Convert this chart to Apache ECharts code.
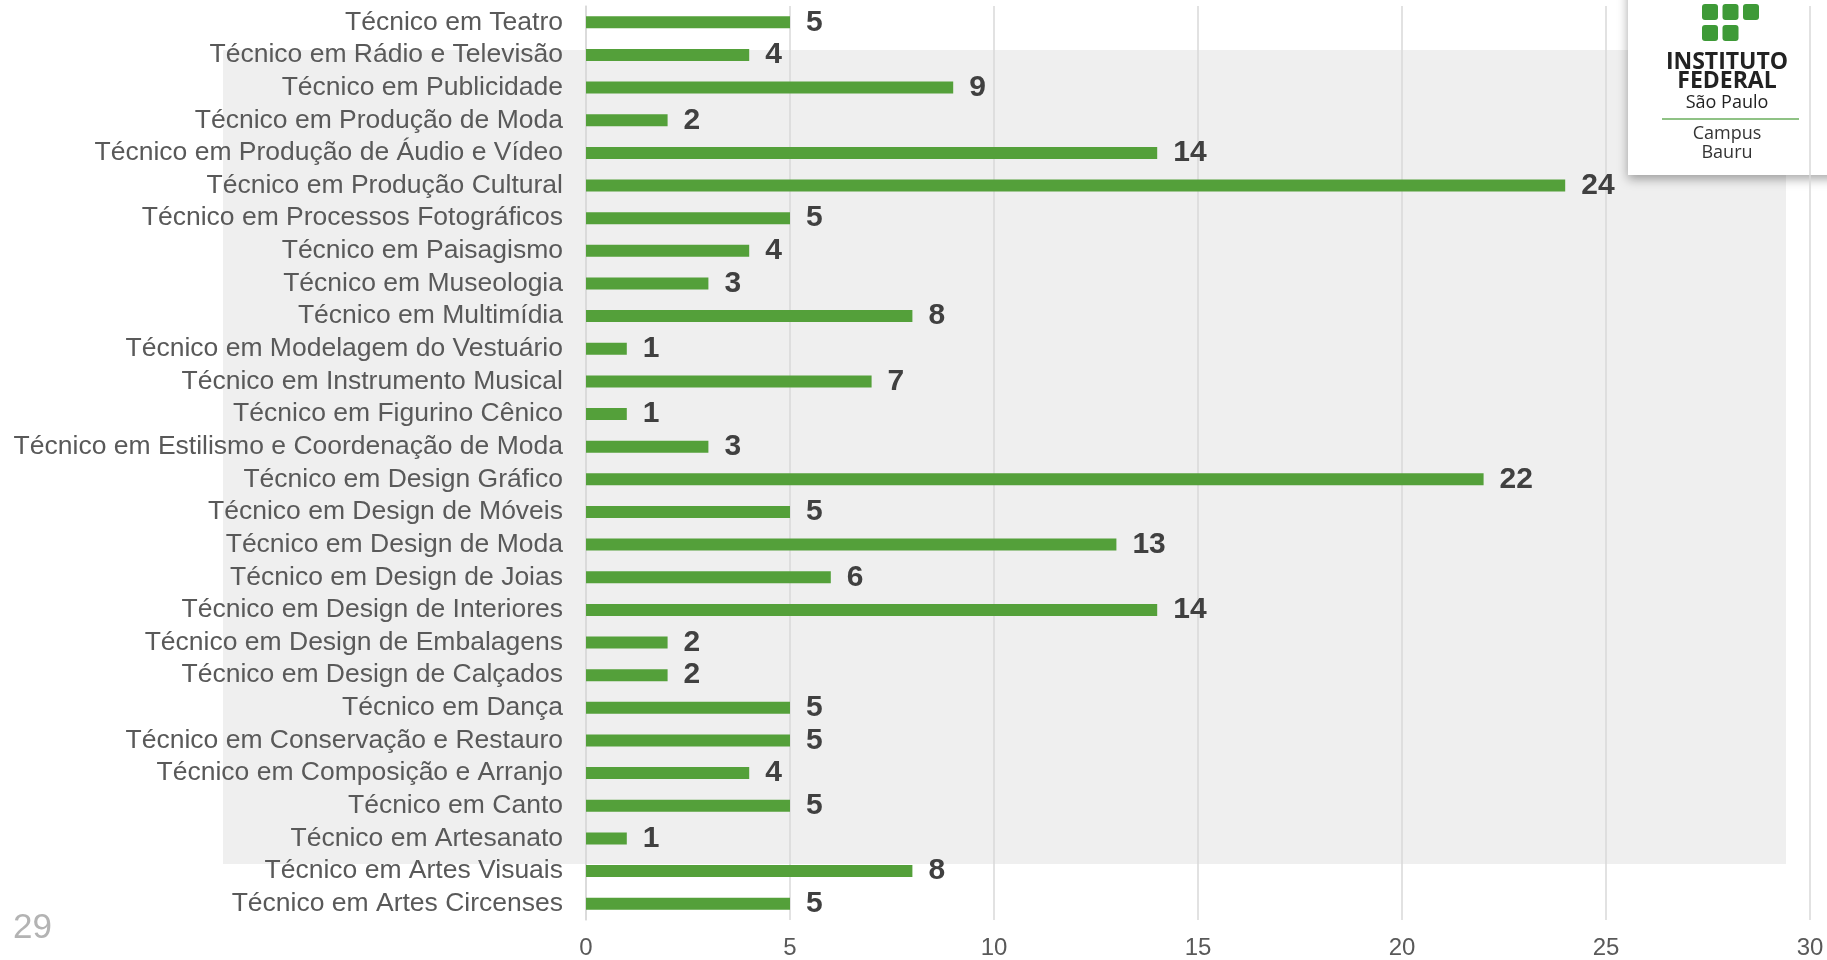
<!DOCTYPE html>
<html>
<head>
<meta charset="utf-8">
<title>Cursos técnicos</title>
<script src="https://cdn.jsdelivr.net/npm/echarts@6/dist/echarts.min.js"></script>
<style>
  html, body { margin: 0; padding: 0; background: #fff; }
  #MyChart { width: 1827px; height: 960px; }
</style>
</head>
<body>
<div id="MyChart"></div>
<script>
// categorias de cima para baixo
const categories = [
  "Técnico em Teatro",
  "Técnico em Rádio e Televisão",
  "Técnico em Publicidade",
  "Técnico em Produção de Moda",
  "Técnico em Produção de Áudio e Vídeo",
  "Técnico em Produção Cultural",
  "Técnico em Processos Fotográficos",
  "Técnico em Paisagismo",
  "Técnico em Museologia",
  "Técnico em Multimídia",
  "Técnico em Modelagem do Vestuário",
  "Técnico em Instrumento Musical",
  "Técnico em Figurino Cênico",
  "Técnico em Estilismo e Coordenação de Moda",
  "Técnico em Design Gráfico",
  "Técnico em Design de Móveis",
  "Técnico em Design de Moda",
  "Técnico em Design de Joias",
  "Técnico em Design de Interiores",
  "Técnico em Design de Embalagens",
  "Técnico em Design de Calçados",
  "Técnico em Dança",
  "Técnico em Conservação e Restauro",
  "Técnico em Composição e Arranjo",
  "Técnico em Canto",
  "Técnico em Artesanato",
  "Técnico em Artes Visuais",
  "Técnico em Artes Circenses"
];
const values = [5, 4, 9, 2, 14, 24, 5, 4, 3, 8, 1, 7, 1, 3, 22, 5, 13, 6, 14, 2, 2, 5, 5, 4, 5, 1, 8, 5];
const xMin = 0;
const xMax = 30;
const xStep = 5;
const pageNumber = "29";

const myChart = echarts.init(document.getElementById("MyChart"));

// quadradinhos do logo (decoracao)
const green = "#3e9a37";
const squares = [];
[[-17, [0, 1]], [4, [0, 1, 2]], [25, [0, 1]]].forEach(([y, cols]) => {
  cols.forEach((c) => {
    squares.push({
      type: "rect",
      z: -5,
      shape: { x: 1702 + c * 20.5, y: y, width: 16, height: 16, r: 3 },
      style: { fill: green }
    });
  });
});

// texto centralizado do logo
const logoText = (text, y, font, color) => ({
  type: "text",
  z: -5,
  x: 1727,
  y: y,
  style: {
    text: text,
    fill: color,
    font: font,
    textAlign: "center",
    textVerticalAlign: "middle"
  }
});

const option = {
  animation: false,
  grid: { left: 586, right: 17, top: 6, bottom: 39 },
  graphic: [
    // fundo cinza do slide
    {
      type: "rect", z: -10,
      shape: { x: 223, y: 50, width: 1563, height: 814 },
      style: { fill: "#efefef" }
    },
    // caixa do logo
    {
      type: "rect", z: -8,
      shape: { x: 1628, y: -20, width: 220, height: 195 },
      style: {
        fill: "#fff",
        shadowBlur: 10,
        shadowOffsetY: 4,
        shadowColor: "rgba(0,0,0,0.35)"
      }
    },
    ...squares,
    logoText("INSTITUTO", 62, "bold 23px 'Open Sans'", "#222"),
    logoText("FEDERAL", 81, "bold 23px 'Open Sans'", "#222"),
    logoText("São Paulo", 103, "18px 'Open Sans'", "#222"),
    {
      type: "line", z: -5,
      shape: { x1: 1662, y1: 119, x2: 1799, y2: 119 },
      style: { stroke: "#6aae5c", lineWidth: 1.5 }
    },
    logoText("Campus", 134, "18px 'Open Sans'", "#333"),
    logoText("Bauru", 153, "18px 'Open Sans'", "#333"),
    // numero da pagina
    {
      type: "text", left: 13, top: 911,
      style: { text: pageNumber, fill: "#b3b3b3", font: "35px 'Liberation Sans'" }
    }
  ],
  xAxis: {
    type: "value",
    min: xMin,
    max: xMax,
    interval: xStep,
    axisLine: { show: false },
    axisTick: { show: false },
    splitLine: { show: true, lineStyle: { color: "#d9d9d9", width: 1.5 } },
    axisLabel: {
      margin: 16,
      fontSize: 24,
      color: "#595959",
      fontFamily: "'Liberation Sans', Arial"
    }
  },
  yAxis: {
    type: "category",
    inverse: true,
    data: categories,
    axisLine: { show: true, lineStyle: { color: "#d9d9d9", width: 1.5 } },
    axisTick: { show: false },
    axisLabel: {
      margin: 23,
      fontSize: 26.5,
      color: "#595959",
      fontFamily: "'Liberation Sans', Arial",
      interval: 0
    }
  },
  series: [
    {
      type: "bar",
      data: values,
      barWidth: 12,
      itemStyle: { color: "#54a03a" },
      label: {
        show: true,
        position: "right",
        distance: 16,
        fontSize: 30,
        fontWeight: "bold",
        color: "#404040",
        fontFamily: "'Liberation Sans', Arial"
      }
    }
  ]
};

myChart.setOption(option);
</script>
</body>
</html>
